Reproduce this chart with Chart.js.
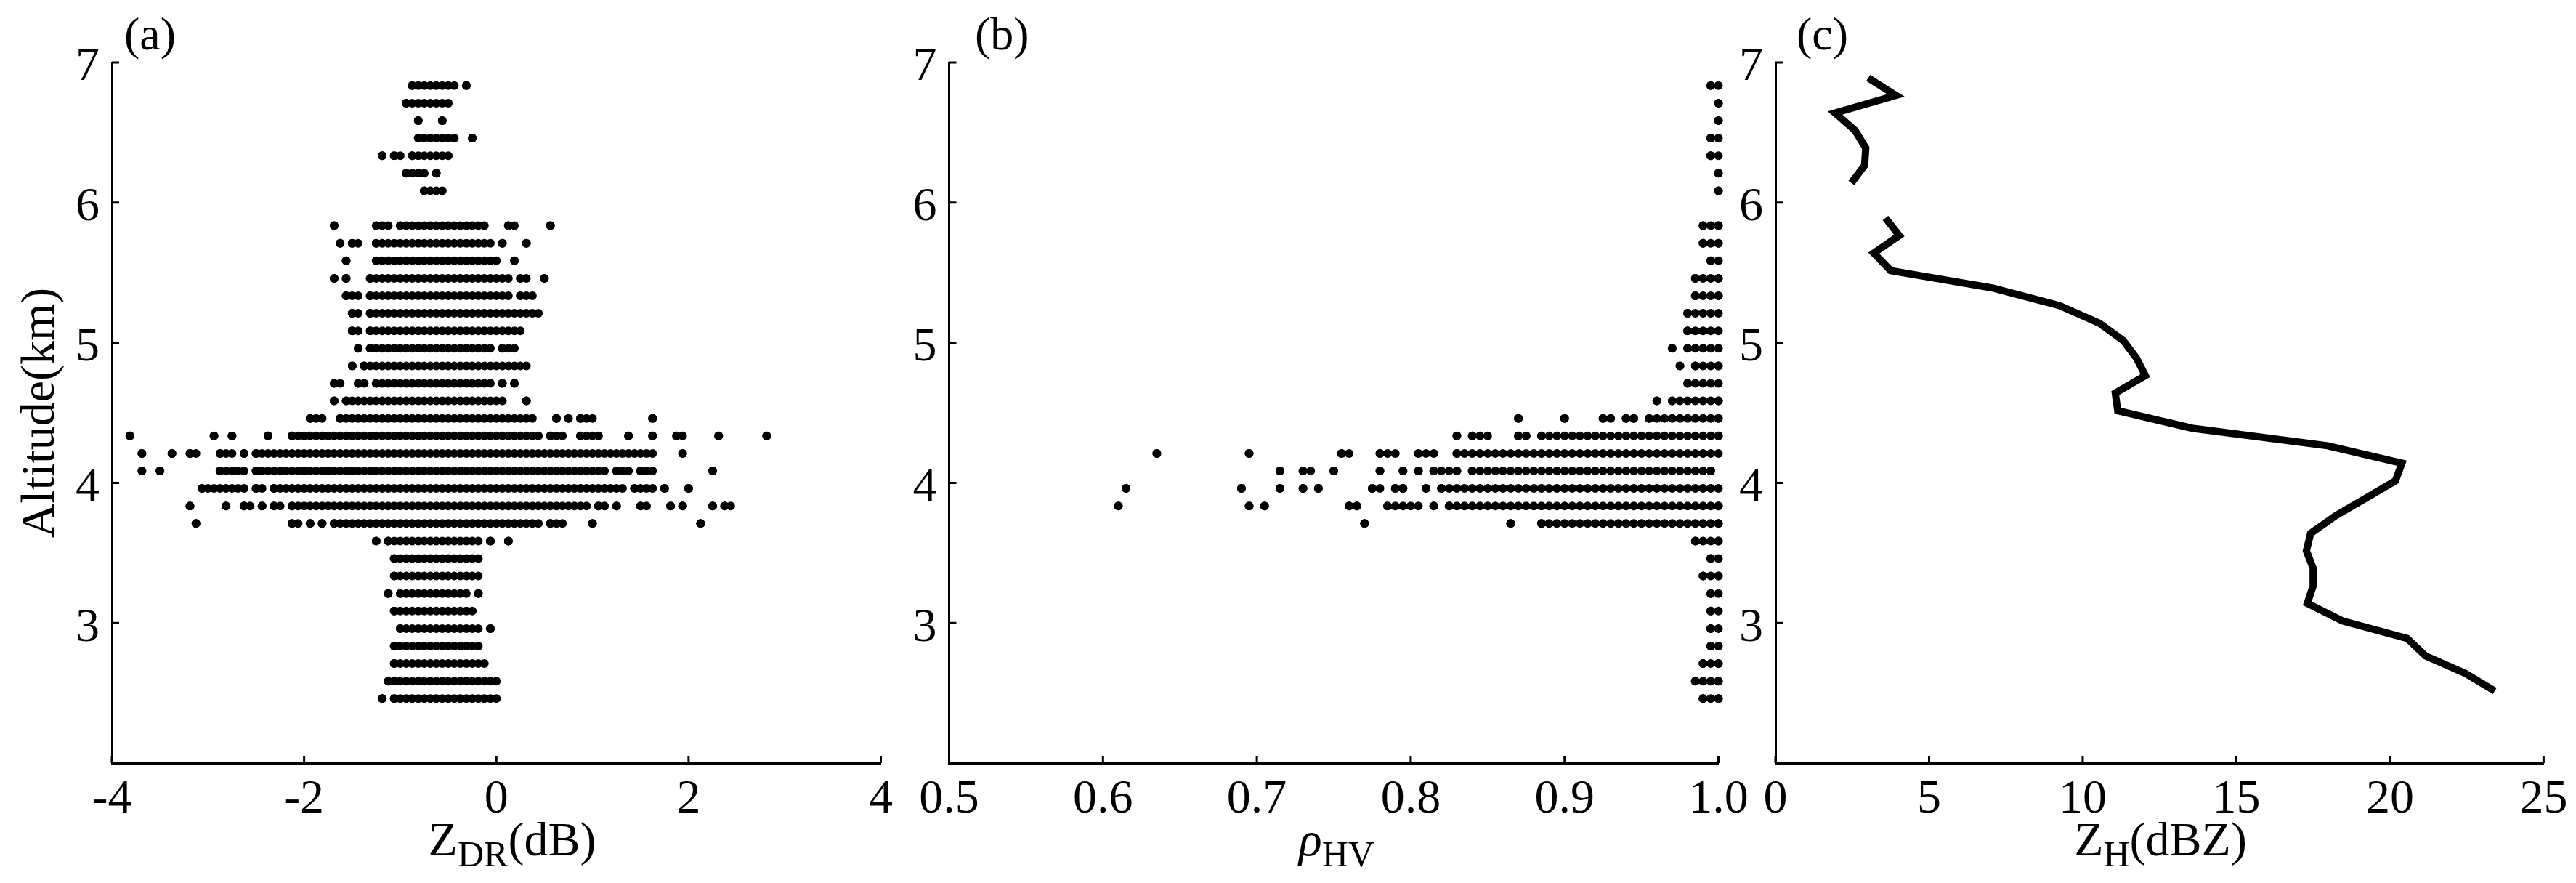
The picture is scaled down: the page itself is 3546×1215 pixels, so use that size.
<!DOCTYPE html>
<html>
<head>
<meta charset="utf-8">
<script src="https://cdn.jsdelivr.net/npm/chart.js@4.4.1/dist/chart.umd.min.js"></script>
<style>
  html, body { margin: 0; padding: 0; background: #fff; }
  #wrap { position: relative; width: 3546px; height: 1215px; }
  canvas { position: absolute; top: 0; }
</style>
</head>
<body>
<div id="wrap">
  <canvas id="chartA" width="1240" height="1215" style="left:0px"></canvas>
  <canvas id="chartB" width="1200" height="1215" style="left:1240px"></canvas>
  <canvas id="chartC" width="1156" height="1215" style="left:2390px"></canvas>
</div>
<script>
// altitude of each gate level (km), top to bottom
const levels = [6.835, 6.71, 6.585, 6.46, 6.335, 6.21, 6.085, 5.96, 5.835, 5.71, 5.585, 5.46,
  5.335, 5.21, 5.085, 4.96, 4.835, 4.71, 4.585, 4.46, 4.335, 4.21, 4.085, 3.96,
  3.835, 3.71, 3.585, 3.46, 3.335, 3.21, 3.085, 2.96, 2.835, 2.71, 2.585, 2.46];

// ZDR (dB) observed at each level: [from, to] runs of consecutive values, or [single]
const ZDR_STEP = 0.0625;
const zdrRuns = [
  [[-0.875, -0.4375], [-0.3125]],
  [[-0.9375, -0.5]],
  [[-0.8125], [-0.5625]],
  [[-0.8125, -0.4375], [-0.25]],
  [[-1.1875], [-1.0625, -1.0], [-0.875, -0.5]],
  [[-0.9375, -0.75], [-0.625]],
  [[-0.75, -0.5625]],
  [],
  [[-1.6875], [-1.25, -1.125], [-1.0, -0.125], [0.125, 0.1875], [0.5625]],
  [[-1.625], [-1.5, -1.4375], [-1.25, -0.0625], [0.0625], [0.3125]],
  [[-1.5625], [-1.25, 0], [0.1875]],
  [[-1.6875], [-1.5625], [-1.3125, 0.125], [0.25, 0.3125], [0.5]],
  [[-1.5625, -1.4375], [-1.3125, 0.125], [0.25, 0.375]],
  [[-1.5, -1.4375], [-1.3125, 0.4375]],
  [[-1.5, -1.4375], [-1.3125, 0.25]],
  [[-1.4375], [-1.3125, -0.0625], [0.0625, 0.1875]],
  [[-1.5], [-1.375, 0.3125]],
  [[-1.6875, -1.625], [-1.4375, -1.375], [-1.25, -0.0625], [0.0625], [0.1875]],
  [[-1.6875], [-1.5625, 0.0625], [0.3125]],
  [[-1.9375, -1.8125], [-1.625, 0.375], [0.625], [0.75], [0.875, 1.0], [1.625]],
  [[-3.8125], [-2.9375], [-2.75], [-2.375], [-2.125, 0.4375], [0.5625, 0.6875], [0.875, 1.0625],
   [1.375], [1.625], [1.875, 1.9375], [2.3125], [2.8125]],
  [[-3.6875], [-3.375], [-3.1875, -3.125], [-2.875, -2.75], [-2.625], [-2.5, 1.625], [1.9375]],
  [[-3.6875], [-3.5], [-2.875, -2.625], [-2.5, 1.125], [1.25, 1.375], [1.5, 1.625], [2.25]],
  [[-3.0625, -2.625], [-2.5, -2.4375], [-2.3125, 1.3125], [1.4375, 1.625], [1.75], [2.0]],
  [[-3.1875], [-2.8125], [-2.625, -2.5625], [-2.4375], [-2.3125, -2.25], [-2.125, 0.9375],
   [1.0625, 1.125], [1.25], [1.5, 1.5625], [1.8125], [1.9375], [2.25], [2.375, 2.4375]],
  [[-3.125], [-2.125, -2.0625], [-1.9375], [-1.8125], [-1.6875, 0.4375], [0.5625, 0.6875], [1.0], [2.125]],
  [[-1.25], [-1.125, -0.1875], [-0.0625], [0.125]],
  [[-1.0625, -0.1875]],
  [[-1.0625, -0.1875]],
  [[-1.125], [-1.0, -0.3125], [-0.1875]],
  [[-1.0625, -0.25]],
  [[-1.0, -0.1875], [-0.0625]],
  [[-1.0625, -0.1875]],
  [[-1.0625, -0.125]],
  [[-1.125, 0]],
  [[-1.1875], [-1.0625, 0]]
];

// rhoHV observed at each level, same layout
const RHO_STEP = 0.005;
const rhoRuns = [
  [[0.995, 1.0]], [[1.0]], [[1.0]], [[0.995, 1.0]], [[0.995, 1.0]], [[1.0]], [[1.0]], [],
  [[0.99, 1.0]], [[0.99, 1.0]], [[0.995, 1.0]], [[0.985, 1.0]], [[0.985, 1.0]],
  [[0.98, 1.0]], [[0.98, 1.0]], [[0.97], [0.98, 1.0]], [[0.975], [0.985, 1.0]],
  [[0.98, 1.0]], [[0.96], [0.97, 1.0]],
  [[0.87], [0.90], [0.925, 0.93], [0.94, 0.945], [0.955, 1.0]],
  [[0.83], [0.84, 0.85], [0.87, 0.875], [0.885, 1.0]],
  [[0.635], [0.695], [0.755, 0.76], [0.78, 0.79], [0.805, 0.815], [0.83, 1.0]],
  [[0.715], [0.73, 0.735], [0.75], [0.78], [0.795], [0.805], [0.815, 0.83], [0.84, 0.995]],
  [[0.615], [0.69], [0.715], [0.73], [0.74], [0.775, 0.78], [0.79, 0.795], [0.81], [0.82, 1.0]],
  [[0.61], [0.695], [0.705], [0.76, 0.765], [0.785, 0.805], [0.815], [0.825, 1.0]],
  [[0.77], [0.865], [0.885, 1.0]],
  [[0.985, 1.0]], [[0.995, 1.0]], [[0.99, 1.0]], [[0.995, 1.0]], [[0.995, 1.0]],
  [[0.995, 1.0]], [[0.995, 1.0]], [[0.99, 1.0]], [[0.985, 1.0]], [[0.99, 1.0]]
];

// mean ZH profile (null = no data)
const zhAlt = [6.89, 6.765, 6.64, 6.515, 6.39, 6.265, 6.14, null,
  5.89, 5.765, 5.64, 5.515, 5.39, 5.265, 5.14, 5.015, 4.89, 4.765, 4.64, 4.515,
  4.39, 4.265, 4.14, 4.015, 3.89, 3.765, 3.64, 3.515, 3.39, 3.265, 3.14, 3.015,
  2.89, 2.765, 2.64, 2.515];
const zhVal = [3.02, 3.92, 1.94, 2.59, 2.94, 2.90, 2.47, null,
  3.58, 4.03, 3.20, 3.75, 7.08, 9.24, 10.54, 11.32, 11.75, 12.04, 11.06, 11.14,
  13.56, 17.97, 20.39, 20.18, 19.21, 18.23, 17.42, 17.28, 17.50, 17.50, 17.31, 18.45,
  20.56, 21.16, 22.46, 23.41];

const FONT = '"Liberation Serif", "Times New Roman", serif';
const FS = 66;
const SUB_FS = 50;
const TICK_LEN = 10;

Chart.defaults.font.family = FONT;
Chart.defaults.color = '#000';

function runPoints(runs) {
  const pts = [];
  runs.forEach((row, i) => {
    row.forEach(r => {
      pts.push({ x: r[0], y: levels[i] });
      pts.push({ x: r[r.length - 1], y: levels[i] });
      pts.push({ x: null, y: null });
    });
  });
  return pts;
}

// one dot per data step along each run
function dotDash(step) {
  return ctx => {
    const s = ctx.chart.scales.x;
    if (!s) return [];
    return [0, Math.abs(s.getPixelForValue(step) - s.getPixelForValue(0))];
  };
}

function dotSet(runs, step) {
  return {
    data: runPoints(runs),
    borderColor: '#000',
    backgroundColor: '#000',
    borderWidth: 12,
    borderCapStyle: 'round',
    borderDash: dotDash(step),
    pointRadius: 6,
    pointBorderWidth: 0,
    pointBackgroundColor: '#000',
    spanGaps: false,
    tension: 0,
    clip: false
  };
}

function panelText(cfg) {
  return {
    id: 'panelText',
    afterDraw(chart) {
      const { ctx, chartArea: a } = chart;
      const xs = chart.scales.x, ys = chart.scales.y;
      ctx.save();
      // inward tick marks
      ctx.strokeStyle = '#000';
      ctx.lineWidth = 3;
      ctx.beginPath();
      xs.ticks.forEach(t => {
        const px = xs.getPixelForValue(t.value);
        ctx.moveTo(px, a.bottom);
        ctx.lineTo(px, a.bottom - TICK_LEN);
      });
      ys.ticks.forEach(t => {
        const py = ys.getPixelForValue(t.value);
        ctx.moveTo(a.left, py);
        ctx.lineTo(a.left + TICK_LEN, py);
      });
      ctx.stroke();

      ctx.fillStyle = '#000';
      ctx.textBaseline = 'alphabetic';
      ctx.textAlign = 'left';
      ctx.font = `64px ${FONT}`;
      ctx.fillText(cfg.panel, cfg.panelX, 68);

      // x title with subscript
      const fontOf = p => `${p.italic ? 'italic ' : ''}${p.sub ? SUB_FS : FS}px ${FONT}`;
      let total = 0;
      cfg.title.forEach(p => { ctx.font = fontOf(p); total += ctx.measureText(p.t).width; });
      let x = cfg.titleX - total / 2;
      cfg.title.forEach(p => {
        ctx.font = fontOf(p);
        ctx.fillText(p.t, x, 1177 + (p.sub ? 15 : 0));
        x += ctx.measureText(p.t).width;
      });
      ctx.restore();
    }
  };
}

function makeChart(id, cfg) {
  return new Chart(document.getElementById(id), {
    type: 'line',
    data: { datasets: cfg.datasets },
    options: {
      responsive: false,
      animation: false,
      events: [],
      devicePixelRatio: 1,
      layout: { padding: { left: 0, top: 86, right: cfg.padRight, bottom: 0 } },
      plugins: { legend: { display: false }, tooltip: { enabled: false } },
      scales: {
        x: {
          type: 'linear',
          min: cfg.xMin,
          max: cfg.xMax,
          afterFit: s => { s.height = 165; s.paddingLeft = 0; s.paddingRight = 0; },
          grid: { display: false },
          border: { display: true, color: '#000', width: 3 },
          ticks: {
            stepSize: cfg.xStep,
            autoSkip: false,
            maxRotation: 0,
            padding: 3,
            font: { size: FS },
            color: '#000',
            callback: cfg.xFmt
          }
        },
        y: {
          type: 'linear',
          min: 2,
          max: 7,
          afterBuildTicks: s => { s.ticks = s.ticks.filter(t => t.value >= 3); },
          afterFit: s => { s.width = cfg.yWidth; },
          grid: { display: false },
          border: { display: true, color: '#000', width: 3 },
          ticks: { stepSize: 1, padding: 9, labelOffset: 7, font: { size: FS }, color: '#000' },
          title: {
            display: !!cfg.yTitle,
            text: cfg.yTitle || '',
            font: { size: FS },
            color: '#000',
            padding: { top: 17, bottom: 0 }
          }
        }
      }
    },
    plugins: [panelText(cfg)]
  });
}

makeChart('chartA', {
  datasets: [dotSet(zdrRuns, ZDR_STEP)],
  padRight: 27.5, yWidth: 154,
  xMin: -4, xMax: 4, xStep: 2, xFmt: v => String(v),
  yTitle: 'Altitude(km)',
  panel: '(a)', panelX: 171,
  titleX: 705,
  title: [{ t: 'Z' }, { t: 'DR', sub: true }, { t: '(dB)' }]
});

makeChart('chartB', {
  datasets: [dotSet(rhoRuns, RHO_STEP)],
  padRight: 74.5, yWidth: 66.5,
  xMin: 0.5, xMax: 1.0, xStep: 0.1, xFmt: v => Number(v).toFixed(1),
  panel: '(b)', panelX: 102,
  titleX: 600,
  title: [{ t: 'ρ', italic: true }, { t: 'HV', sub: true }]
});

makeChart('chartC', {
  datasets: [{
    data: zhVal.map((v, i) => ({ x: v, y: zhAlt[i] })),
    borderColor: '#000',
    borderWidth: 10,
    borderJoinStyle: 'miter',
    borderCapStyle: 'butt',
    pointRadius: 0,
    spanGaps: false,
    tension: 0,
    clip: false
  }],
  padRight: 44.6, yWidth: 54,
  xMin: 0, xMax: 25, xStep: 5, xFmt: v => String(v),
  panel: '(c)', panelX: 83,
  titleX: 584,
  title: [{ t: 'Z' }, { t: 'H', sub: true }, { t: '(dBZ)' }]
});
</script>
</body>
</html>
